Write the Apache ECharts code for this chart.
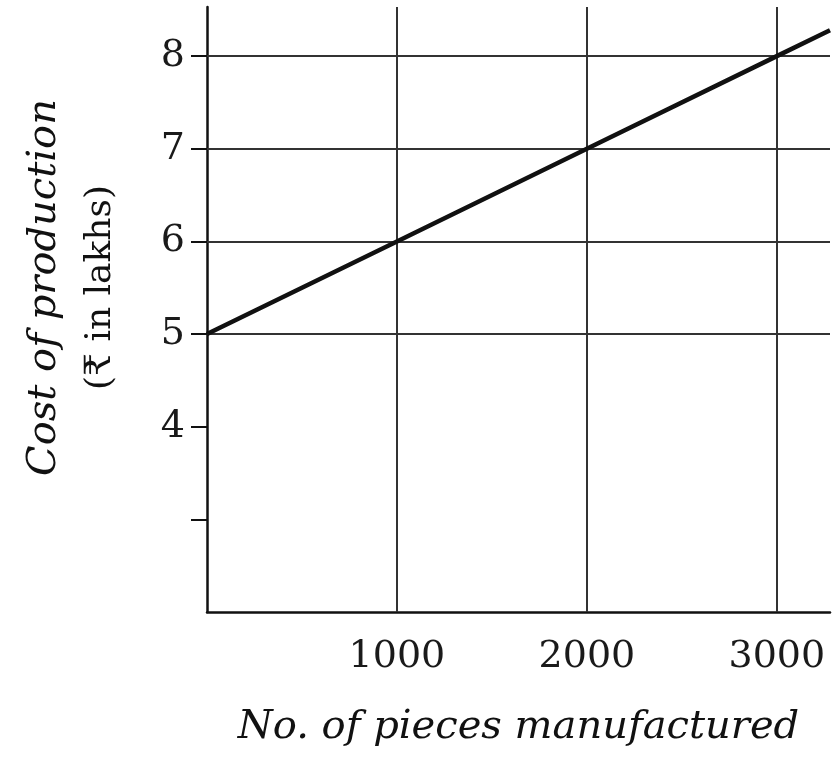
<!DOCTYPE html>
<html>
<head>
<meta charset="utf-8">
<title>Cost of production</title>
<script src="https://cdn.jsdelivr.net/npm/echarts@6/dist/echarts.min.js"></script>
<style>
  html, body { margin: 0; padding: 0; background: #fff; }
  #chart { width: 838px; height: 761px; }
</style>
</head>
<body>
<div id="chart"></div>
<script>
// pieces manufactured vs cost (₹ lakhs)
const pieces = [0, 1000, 2000, 3000, 3280]
const cost = [5, 6, 7, 8, 8.28]
const xLabels = [1000, 2000, 3000]
const yLabels = [4, 5, 6, 7, 8]
const yTicks = [3, 4, 5, 6, 7, 8]
const hGrid = [5, 6, 7, 8]
const vGrid = [1000, 2000, 3000]

const chart = echarts.init(document.getElementById('chart'))

const serif = 'DejaVu Serif'

const option = {
  animation: false,
  backgroundColor: '#fff',
  grid: { left: 207, right: 8, top: 7, bottom: 149 },
  xAxis: {
    type: 'value',
    min: 0,
    max: 3280,
    interval: 1000,
    name: 'No. of pieces manufactured',
    nameLocation: 'middle',
    nameGap: 96,
    nameTextStyle: { fontFamily: serif, fontStyle: 'italic', fontSize: 40, color: '#111' },
    axisLine: { lineStyle: { color: '#111', width: 2.5 } },
    axisTick: { show: false },
    splitLine: { show: false },
    axisLabel: {
      margin: 26,
      fontFamily: serif,
      fontSize: 38,
      color: '#1a1a1a',
      customValues: xLabels,
      formatter: v => String(v)
    }
  },
  yAxis: {
    type: 'value',
    min: 2,
    max: 8.53,
    interval: 1,
    name: '{a|Cost of production}\n{b|(₹ in lakhs)}',
    nameLocation: 'middle',
    nameRotate: 90,
    nameGap: 78,
    nameTextStyle: {
      lineHeight: 56,
      padding: [0, 0, 0, 44],
      rich: {
        a: { fontFamily: serif, fontStyle: 'italic', fontSize: 40, color: '#111', lineHeight: 56 },
        b: { fontFamily: serif, fontSize: 36, color: '#111', lineHeight: 56 }
      }
    },
    axisLine: { lineStyle: { color: '#111', width: 2.5 } },
    axisTick: { show: true, length: 16, customValues: yTicks, lineStyle: { color: '#111', width: 2 } },
    splitLine: { show: false },
    axisLabel: {
      margin: 22,
      fontFamily: serif,
      fontSize: 38,
      color: '#1a1a1a',
      customValues: yLabels,
      formatter: v => String(v)
    }
  },
  series: [
    {
      type: 'line',
      data: pieces.map((p, i) => [p, cost[i]]),
      showSymbol: false,
      lineStyle: { color: '#111', width: 4.5 },
      clip: true,
      z: 5,
      markLine: {
        silent: true,
        symbol: 'none',
        label: { show: false },
        lineStyle: { color: '#333', width: 2, type: 'solid' },
        data: [
          ...hGrid.map(v => ({ yAxis: v })),
          ...vGrid.map(v => ({ xAxis: v }))
        ]
      }
    }
  ]
}

chart.setOption(option)
</script>
</body>
</html>
